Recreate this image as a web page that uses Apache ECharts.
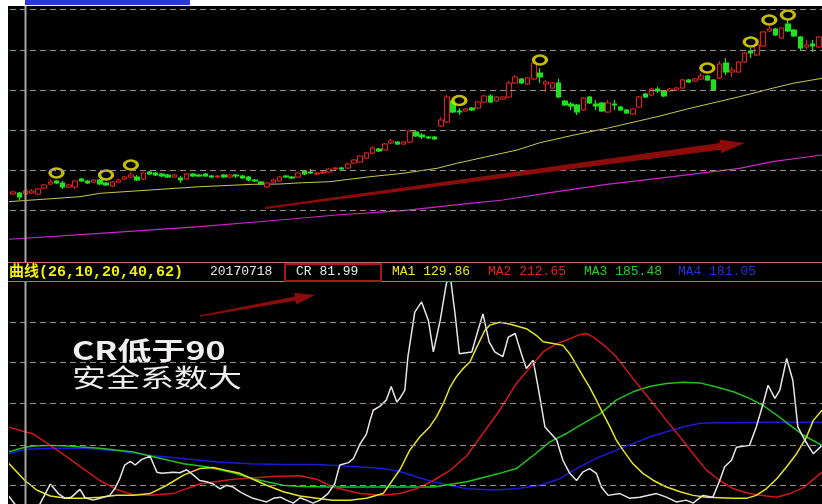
<!DOCTYPE html>
<html><head><meta charset="utf-8">
<script src="https://cdn.jsdelivr.net/npm/echarts@6/dist/echarts.min.js"></script>
<style>html,body{margin:0;padding:0;background:#fff}#c{width:822px;height:504px}</style>
</head><body><div id="c"></div>
<script>
// ---- price panel: [open, close, low, high] per trading day ----
const candles = [
[10.6,10.8,10.5,10.9],[10.7,10.3,10.0,10.8],[10.6,10.9,10.5,11.0],[10.7,10.9,10.6,11.1],[10.6,11.1,10.5,11.2],
[11.2,11.5,11.1,11.6],[11.6,11.8,11.5,12.1],[11.9,11.7,11.6,12.0],[11.7,11.3,11.1,11.9],[11.3,11.5,11.2,11.6],
[11.3,11.9,11.1,12.0],[12.1,11.9,11.8,12.2],[11.9,11.7,11.6,12.0],[11.8,12.0,11.7,12.1],[12.0,11.6,11.5,12.1],
[11.7,11.5,11.4,11.8],[11.4,11.8,11.3,11.9],[11.8,12.0,11.7,12.1],[12.1,12.3,12.0,12.4],[12.3,12.5,12.2,12.8],
[12.3,12.0,11.9,12.5],[12.1,12.7,12.0,12.8],[12.8,12.6,12.5,12.9],[12.7,12.5,12.4,12.8],[12.6,12.4,12.3,12.7],
[12.5,12.3,12.2,12.6],[12.3,12.5,12.2,12.6],[12.2,12.0,11.7,12.4],[12.1,12.6,12.0,12.7],[12.6,12.4,12.3,12.7],
[12.5,12.4,12.3,12.6],[12.6,12.4,12.3,12.7],[12.4,12.3,12.2,12.5],[12.3,12.4,12.2,12.5],[12.5,12.3,12.2,12.6],
[12.3,12.5,12.2,12.6],[12.5,12.4,12.2,12.6],[12.4,12.2,12.1,12.5],[12.3,12.0,11.9,12.4],[12.0,11.9,11.8,12.1],
[11.8,11.6,11.5,11.9],[11.3,11.7,11.2,11.8],[11.8,12.0,11.7,12.1],[11.9,12.3,11.8,12.4],[12.4,12.3,12.2,12.5],
[12.3,12.2,12.1,12.4],[12.3,12.7,12.2,12.8],[12.9,12.6,12.5,13.0],[12.8,12.7,12.6,13.1],[12.6,12.7,12.5,12.8],
[12.7,12.8,12.6,12.9],[12.8,13.1,12.7,13.2],[13.1,13.2,13.0,13.3],[13.2,13.1,13.0,13.3],[13.2,13.6,13.1,13.7],
[13.7,14.0,13.6,14.1],[13.8,14.4,13.7,14.5],[14.2,14.7,14.1,14.8],[14.7,15.2,14.6,15.4],[15.1,14.9,14.8,15.2],
[15.0,15.6,14.9,15.7],[15.7,15.9,15.6,16.1],[15.8,15.6,15.5,15.9],[15.6,15.8,15.5,15.9],[15.8,16.9,15.7,17.0],
[16.8,16.4,16.3,16.9],[16.5,16.3,16.1,16.7],[16.3,16.2,16.1,16.4],[16.3,16.1,16.0,16.4],[17.4,18.0,17.3,18.3],
[17.8,20.3,17.7,20.5],[19.9,18.8,18.7,20.0],[18.9,18.8,18.5,19.2],[18.9,19.1,18.8,19.2],[19.2,19.0,18.9,19.3],
[19.2,19.8,19.1,19.9],[19.8,20.4,19.7,20.5],[20.4,19.8,19.7,20.6],[19.9,20.3,19.8,20.4],[20.1,20.3,20.0,20.4],
[20.3,21.7,20.2,21.9],[21.7,22.3,21.6,22.5],[22.1,21.7,21.6,22.2],[21.6,22.2,21.5,22.3],[22.1,23.7,22.0,23.8],
[22.7,22.3,21.7,23.2],[21.6,21.8,20.8,22.0],[21.2,21.7,21.1,21.8],[21.7,20.3,20.2,22.1],[19.9,19.5,19.4,20.0],
[19.6,19.4,19.0,19.8],[19.5,18.8,18.5,19.6],[19.0,20.2,18.9,20.3],[20.3,19.7,19.6,20.4],[19.6,19.4,19.0,20.0],
[19.7,18.9,18.8,19.8],[18.8,19.7,18.7,20.0],[19.6,19.5,19.0,20.0],[19.3,19.0,18.9,19.4],[19.0,18.7,18.6,19.1],
[18.6,19.1,18.5,19.2],[19.3,20.3,19.2,20.4],[20.6,20.3,20.2,20.7],[20.5,21.1,20.4,21.2],[21.1,20.9,20.7,21.3],
[20.9,20.4,20.3,21.0],[20.9,21.1,20.8,21.2],[21.0,21.2,20.9,21.3],[21.2,22.0,21.1,22.1],[22.0,21.8,21.7,22.1],
[21.9,22.1,21.8,22.2],[22.1,22.4,22.0,22.7],[22.4,22.0,21.9,22.5],[22.0,21.0,20.9,22.1],[22.2,23.6,22.1,23.9],
[23.7,22.8,22.5,24.2],[22.8,23.0,22.3,23.3],[22.8,23.8,22.7,23.9],[23.8,24.7,23.7,24.8],[24.9,24.7,24.2,25.2],
[24.5,25.5,24.4,25.6],[25.4,26.8,25.3,26.9],[26.9,27.1,26.8,27.4],[27.1,26.5,26.4,27.2],[26.2,27.2,26.1,27.3],
[27.6,26.9,26.8,28.0],[27.0,26.4,26.3,27.1],[26.3,25.2,25.0,26.4],[25.3,25.5,25.1,26.0],[25.6,25.4,24.8,26.0],
[25.3,26.3,25.2,26.4]
];
// moving averages on the price panel: [bar index, price]
const priceMaYellow = [[-0.8,9.83],[10.8,10.33],[14,10.67],[22.1,11.0],[30.1,11.33],[38.7,11.57],[43,11.6],[46.8,11.73],[51.1,11.83],[57.6,12.33],[62.9,12.67],[68.4,13.17],[71.6,13.67],[76.4,14.33],[81.3,15.0],[85,15.73],[90.5,16.5],[95.8,17.17],[103.9,18.33],[109.2,19.17],[117.2,20.33],[122.5,21.17],[125.8,21.67],[130.5,22.17]];
const priceMaMagenta = [[-0.8,6.07],[14,6.67],[30.1,7.33],[43,8.0],[52.2,8.5],[62.9,8.93],[73.7,9.67],[79,10.0],[86.6,10.73],[95.8,11.57],[106.4,12.33],[117.2,13.17],[122.5,13.83],[130.5,14.5]];
// yellow ring signals: [bar index, price]
const signalMarks = [[7,12.7],[15,12.5],[19,13.5],[72,19.95],[85,24.0],[112,23.2],[119,25.8],[122,28.0],[125,28.5]];
const priceLevels = [29.05,25,21,17,13,9];

// ---- CR indicator panel: [bar index, value] ----
const crLine = [[-0.8,104],[0.3,89],[1,86],[2,82],[3,84],[4.3,89],[6,123],[7.3,107],[8.4,99],[9.4,101],[10.8,114],[11.6,100],[12.9,96],[14,99],[15.6,104],[16.4,115],[17.2,132],[18,155],[18.9,161],[19.7,155],[20.7,164],[22.1,170],[22.7,155],[23.2,143],[24,141],[25.8,143],[26.9,142],[28,147],[29.1,138],[30.1,129],[31.2,127],[32.3,123],[33.4,115],[34.4,121],[35.5,118],[36.6,110],[37.7,104],[38.7,99],[39.8,96],[40.9,93],[42,99],[43.1,101],[44.1,96],[45.2,91],[46.3,100],[47.3,96],[48.4,91],[49.5,96],[50.8,107],[51.9,124],[52.7,155],[54.1,159],[54.9,166],[56,191],[57,207],[57.6,230],[58.1,247],[59.2,254],[60.2,264],[61,287],[61.9,261],[62.4,267],[63.2,281],[63.7,337],[64.8,412],[65.9,429],[67,398],[67.8,345],[68.9,398],[69.9,460],[70.5,475],[71.3,409],[72,342],[74,345],[75,381],[75.8,409],[76.8,362],[77.7,345],[79,337],[79.9,370],[81,376],[82,342],[82.8,317],[83.9,331],[84.7,286],[85.8,219],[87.7,197],[88.7,163],[89.8,141],[90.9,129],[91.9,143],[93,149],[94.1,141],[94.9,118],[96,104],[97.9,107],[99.5,99],[101.1,101],[103.8,107],[105.4,101],[107,93],[108.6,96],[109.7,91],[111.3,104],[112.9,101],[114,129],[114.8,152],[115.9,163],[116.7,185],[118.8,188],[119.9,219],[121,258],[121.8,289],[122.9,267],[123.7,281],[124.8,334],[125.8,297],[126.6,219],[127.7,197],[129.1,174],[130.5,188]];
const crMa1 = [[-0.8,159],[1.9,129],[3.8,113],[6,103],[8.6,99],[11.3,99],[14,101],[16.7,104],[19.4,104],[22.1,107],[24.8,121],[27.5,138],[30.1,149],[32.3,151],[34.4,146],[36.6,141],[38.7,131],[40.9,121],[43.6,110],[46.3,103],[49,99],[51.6,96],[54.3,96],[57,99],[59.7,107],[62.4,147],[64,180],[65.6,202],[67.2,219],[68.3,236],[69.4,258],[70.5,286],[71.5,303],[72.6,317],[73.7,328],[74.8,353],[76.1,381],[76.9,390],[78.5,395],[80.1,392],[81.8,387],[82.8,384],[84.4,373],[85.5,362],[87.1,359],[88.7,356],[89.8,342],[90.9,323],[92,303],[93,286],[94.1,264],[95.2,241],[96.3,219],[97.3,197],[98.4,180],[100,157],[101.6,141],[103.3,129],[105.4,118],[107.6,110],[109.7,104],[111.9,101],[114,100],[116.2,99],[118.3,99],[119.9,104],[121.5,115],[123.2,132],[124.8,152],[126.4,174],[128,202],[129.1,230],[130.5,247]];
const crMa2 = [[-0.8,219],[1.9,211],[3.3,207],[6,188],[8.6,169],[11.3,149],[14,129],[16.7,114],[19.4,105],[22.1,104],[25.8,107],[30.1,123],[35.5,131],[42.5,136],[46.3,137],[49,131],[51.6,118],[55.9,107],[59.7,104],[62.4,107],[65.1,115],[67.8,129],[70.5,146],[73.2,171],[75.8,208],[78.5,247],[81.2,292],[83.9,325],[85.5,345],[87.7,359],[89.3,365],[91.4,374],[92.5,376],[93.6,370],[95.7,353],[97.3,337],[99,314],[101.1,286],[103.3,258],[105.4,230],[107.6,202],[109.7,174],[111.9,146],[114,129],[116.2,115],[118.8,107],[121.5,103],[123.2,101],[125.3,107],[127.5,117],[130.5,143]];
const crMa3 = [[-0.8,177],[1.9,185],[3.3,187],[6,188],[8.6,187],[14,183],[19.4,177],[22.1,170],[27.5,157],[31.2,152],[35.5,142],[38.7,132],[40.9,127],[43.6,121],[46.3,119],[51.6,118],[57,118],[62.4,118],[67.8,118],[73.2,127],[78.5,141],[81.2,149],[83.9,171],[86.6,194],[89.3,208],[92,225],[94.7,241],[97.3,264],[100,278],[102.7,287],[105.4,292],[108.1,294],[110.8,293],[113.5,286],[116.2,278],[118.8,267],[121,255],[123.2,239],[125.3,222],[127.5,205],[130.5,188]];
const crMa4 = [[-0.8,174],[1.9,181],[6,183],[11.3,183],[16.7,179],[22.1,171],[27.5,166],[32.9,160],[38.2,157],[43.6,156],[49,156],[54.3,153],[59.7,149],[62.4,144],[65.1,135],[67.8,127],[70.5,121],[73.2,115],[77.5,113],[81.2,115],[85,121],[88.2,132],[91.4,152],[94.7,169],[97.3,180],[100,191],[102.7,202],[105.4,211],[108.1,219],[110.8,225],[113.5,226],[116.2,226],[121.5,227],[130.5,227]];
const crLevels = [395,327,258,189,121];

// header texts
const headerTitle = '曲线(26,10,20,40,62)';
const cursorDate = '20170718';
const cursorIndex = 2;
const headerValues = [['CR 81.99','#eeeeee'],['MA1 129.86','#ecec10'],['MA2 212.65','#e02424'],['MA3 185.48','#22d022'],['MA4 181.05','#2234d8']];

// trading-day categories
const dates = [];
for (let d = new Date(Date.UTC(2017,6,14)); dates.length < candles.length; d.setUTCDate(d.getUTCDate()+1)) {
  const w = d.getUTCDay(); if (w === 0 || w === 6) continue;
  dates.push(d.toISOString().slice(0,10).replace(/-/g,''));
}

const chart = echarts.init(document.getElementById('c'), null, {renderer:'canvas'});
const dash = {type:[6,4], color:'#a08a8a', width:1};
const mono = "'Liberation Mono','DejaVu Sans Mono',monospace";
const option = {
  backgroundColor:'#000',
  animation:false,
  grid:[{left:10,right:0,top:7,height:255},{left:10,right:0,top:282,bottom:0}],
  xAxis:[
    {type:'category',gridIndex:0,data:dates,show:false,boundaryGap:true},
    {type:'value',gridIndex:0,min:-0.5,max:130.5,show:false},
    {type:'value',gridIndex:1,min:-0.5,max:130.5,show:false}
  ],
  yAxis:[
    {type:'value',gridIndex:0,min:3.8,max:29.3,show:false,splitLine:{show:false}},
    {type:'value',gridIndex:1,min:89.5,max:462.5,show:false,splitLine:{show:false}}
  ],
  series:[
    {type:'line',xAxisIndex:1,yAxisIndex:0,data:priceMaYellow,symbol:'none',lineStyle:{color:'#c8c850',width:1},z:2,
     markLine:{silent:true,symbol:'none',label:{show:false},lineStyle:dash,data:priceLevels.map(v=>({yAxis:v}))}},
    {type:'line',xAxisIndex:1,yAxisIndex:0,data:priceMaMagenta,symbol:'none',lineStyle:{color:'#c828c8',width:1.2},z:2},
    {type:'candlestick',xAxisIndex:0,yAxisIndex:0,data:candles,barWidth:5,z:3,
     itemStyle:{color:'#000',color0:'#1ee21e',borderColor:'#d82222',borderColor0:'#1ee21e',borderWidth:1.2}},
    {type:'scatter',xAxisIndex:1,yAxisIndex:0,data:signalMarks,symbol:'circle',symbolSize:[13,9],z:4,
     itemStyle:{color:'#000',borderColor:'#f6ee00',borderWidth:2.8}},
    {type:'line',xAxisIndex:2,yAxisIndex:1,data:crMa4,symbol:'none',lineStyle:{color:'#1a1ad8',width:1.5},
     markLine:{silent:true,symbol:'none',label:{show:false},lineStyle:dash,data:crLevels.map(v=>({yAxis:v}))}},
    {type:'line',xAxisIndex:2,yAxisIndex:1,data:crMa3,symbol:'none',lineStyle:{color:'#22c022',width:1.5}},
    {type:'line',xAxisIndex:2,yAxisIndex:1,data:crMa2,symbol:'none',lineStyle:{color:'#d01818',width:1.5}},
    {type:'line',xAxisIndex:2,yAxisIndex:1,data:crMa1,symbol:'none',lineStyle:{color:'#e6e620',width:1.5}},
    {type:'line',xAxisIndex:2,yAxisIndex:1,data:crLine,symbol:'none',lineStyle:{color:'#e6e6e6',width:1.5}}
  ]
};
chart.setOption(option);

const cx = chart.convertToPixel({xAxisIndex:0}, dates[cursorIndex]);
const g = [
  {type:'rect',shape:{x:0,y:0,width:822,height:6},style:{fill:'#fff'},z:100},
  {type:'rect',shape:{x:0,y:0,width:8,height:504},style:{fill:'#fff'},z:100},
  {type:'rect',shape:{x:25,y:0,width:165,height:5},style:{fill:'#2a3ad6'},z:101},
  {type:'rect',shape:{x:8,y:262,width:814,height:20},style:{fill:'#000'},z:90},
  {type:'line',shape:{x1:8,y1:262.5,x2:822,y2:262.5},style:{stroke:'#c07070',lineWidth:1.2},z:91},
  {type:'line',shape:{x1:8,y1:281.5,x2:822,y2:281.5},style:{stroke:'#c07070',lineWidth:1.2},z:91},
  {type:'line',shape:{x1:cx,y1:6,x2:cx,y2:262},style:{stroke:'#a8a8a8',lineWidth:2},z:80},
  {type:'line',shape:{x1:cx,y1:282,x2:cx,y2:504},style:{stroke:'#a8a8a8',lineWidth:2},z:80},
  {type:'text',x:9,y:272,style:{text:headerTitle,fill:'#f0f000',font:"bold 15px "+mono+",'Noto Sans CJK SC'",verticalAlign:'middle',textVerticalAlign:'middle'},z:95},
  {type:'text',x:210,y:272,style:{text:cursorDate,fill:'#e6e6e6',font:"13px "+mono,verticalAlign:'middle',textVerticalAlign:'middle'},z:95},
  {type:'rect',shape:{x:285,y:264,width:96,height:17},style:{fill:'none',stroke:'#a81818',lineWidth:2},z:95},
  {type:'polygon',shape:{points:[[264.9,207],[719.7,142.9],[719.3,139.4],[745,143],[721.1,153.3],[720.7,149.8],[265.1,209]]},style:{fill:'#8c0c0c'},z:20},
  {type:'polygon',shape:{points:[[199.9,315.3],[294.9,296.4],[294.2,292.7],[315,295],[296.4,304.5],[295.7,300.8],[200.1,316.7]]},style:{fill:'#8c0c0c'},z:20},
  {type:'text',x:72,y:350,scaleX:1.36,style:{text:'CR低于90',fill:'#f0f0f0',font:"bold 25px 'Noto Sans CJK SC'",verticalAlign:'middle',textVerticalAlign:'middle'},z:60},
  {type:'text',x:72,y:377,scaleX:1.36,style:{text:'安全系数大',fill:'#f0f0f0',font:"25px 'Noto Sans CJK SC'",verticalAlign:'middle',textVerticalAlign:'middle'},z:60}
];
const hx = [296,392,488,584,678];
headerValues.forEach((h,k)=>{
  g.push({type:'text',x:hx[k],y:272,style:{text:h[0],fill:h[1],font:"13px "+mono,verticalAlign:'middle',textVerticalAlign:'middle'},z:95});
});
chart.setOption({graphic:g});
</script>
</body></html>
